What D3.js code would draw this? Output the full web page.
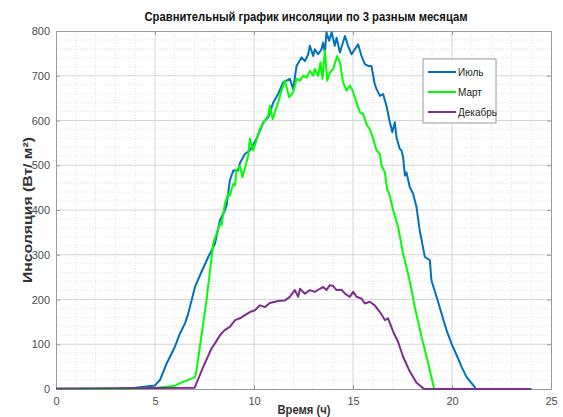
<!DOCTYPE html>
<html>
<head>
<meta charset="utf-8">
<script src="https://cdn.jsdelivr.net/npm/d3@7"></script>
<style>
  body { margin: 0; background: #fff; }
  text { font-family: "Liberation Sans Narrow", "Arial Narrow", "Liberation Sans", sans-serif; }
</style>
</head>
<body>
<div id="chart"></div>
<script>
// Series (hours, W/m²)
const julyT = [0, 3, 4, 5, 5.25, 5.59, 6.0, 6.26, 6.51, 6.68, 7.02, 7.35, 7.69, 8.03, 8.28, 8.53, 8.62, 8.78, 8.95, 9.2, 9.29, 9.54, 9.79, 10.13, 10.47, 10.72, 10.97, 11.22, 11.47, 11.81, 11.98, 12.15, 12.4, 12.57, 12.74, 12.82, 12.99, 13.07, 13.24, 13.41, 13.49, 13.58, 13.66, 13.8, 13.92, 14.08, 14.17, 14.34, 14.59, 14.75, 14.93, 15.09, 15.26, 15.43, 15.6, 15.76, 15.93, 16.1, 16.19, 16.36, 16.52, 16.69, 16.86, 16.99, 17.11, 17.2, 17.36, 17.45, 17.53, 17.62, 17.7, 17.87, 18.04, 18.21, 18.37, 18.63, 18.88, 18.96, 19.22, 19.47, 19.72, 19.97, 20.23, 20.48, 20.73, 21.15, 21.2, 24];
const julyV = [0, 0, 3, 8, 20, 57, 94, 124, 146, 169, 228, 262, 295, 325, 377, 399, 412, 466, 488, 488, 505, 525, 533, 559, 596, 607, 640, 659, 685, 693, 670, 722, 741, 733, 748, 767, 744, 759, 748, 759, 774, 752, 797, 778, 797, 767, 785, 752, 789, 767, 748, 759, 770, 744, 726, 722, 722, 681, 670, 655, 659, 633, 596, 574, 596, 562, 537, 533, 518, 477, 484, 451, 436, 406, 354, 295, 288, 243, 206, 169, 132, 102, 76, 50, 27, 4, 0, 0];

const marchT = [0, 3, 5, 6, 6.26, 6.93, 7.02, 7.1, 7.6, 7.94, 8.28, 8.36, 8.53, 8.7, 8.78, 8.95, 9.04, 9.12, 9.29, 9.42, 9.71, 9.79, 9.96, 10.3, 10.55, 10.72, 10.8, 10.94, 11.22, 11.39, 11.56, 11.78, 11.98, 12.15, 12.32, 12.49, 12.66, 12.82, 12.99, 13.07, 13.24, 13.36, 13.46, 13.58, 13.7, 13.83, 14.0, 14.2, 14.34, 14.5, 14.67, 14.84, 14.98, 15.18, 15.35, 15.51, 15.71, 15.85, 16.02, 16.19, 16.36, 16.44, 16.61, 16.72, 16.86, 17.03, 17.28, 17.53, 17.78, 17.96, 18.12, 18.46, 18.8, 19.08, 19.12, 24];
const marchV = [0, 0, 2, 7, 13, 25, 27, 42, 198, 325, 369, 366, 414, 436, 432, 458, 455, 488, 499, 473, 522, 559, 533, 581, 600, 611, 633, 603, 640, 667, 689, 652, 663, 693, 689, 700, 696, 711, 700, 715, 700, 730, 693, 756, 689, 707, 715, 744, 730, 685, 667, 678, 667, 640, 618, 615, 589, 581, 559, 533, 525, 499, 484, 447, 432, 399, 362, 302, 258, 221, 183, 117, 57, 4, 0, 0];

const decT = [0, 5, 7.0, 7.02, 7.44, 7.86, 8.03, 8.28, 8.53, 8.78, 9.04, 9.29, 9.54, 9.79, 10.05, 10.3, 10.55, 10.8, 11.06, 11.31, 11.56, 11.81, 12.06, 12.23, 12.32, 12.57, 12.82, 13.07, 13.33, 13.49, 13.66, 13.83, 14.0, 14.17, 14.42, 14.59, 14.84, 15.01, 15.18, 15.43, 15.6, 15.85, 16.1, 16.36, 16.61, 16.77, 17.03, 17.28, 17.53, 17.87, 18.21, 18.54, 18.6, 24];
const decV = [1, 2, 3, 5, 50, 91, 102, 120, 132, 139, 154, 158, 165, 172, 176, 187, 183, 192, 195, 197, 198, 206, 221, 206, 224, 213, 221, 217, 224, 228, 221, 232, 230, 221, 222, 213, 206, 217, 206, 202, 191, 195, 187, 172, 154, 158, 128, 105, 72, 39, 14, 2, 0, 0];

const seriesNames = ["Июль", "Март", "Декабрь"];
const seriesColors = ["#0072BD", "#00FF00", "#7E2F8E"];
const xTicks = [0, 5, 10, 15, 20, 25];
const yTicks = [0, 100, 200, 300, 400, 500, 600, 700, 800];

const W = 563, H = 417;
const margin = { top: 31, right: 12, bottom: 28, left: 56 };
const iw = W - margin.left - margin.right;
const ih = H - margin.top - margin.bottom;

const svg = d3.select("#chart").append("svg")
    .attr("width", W)
    .attr("height", H);

const g = svg.append("g")
    .attr("transform", `translate(${margin.left},${margin.top})`);

const x = d3.scaleLinear().domain([0, 25]).range([0, iw]);
const y = d3.scaleLinear().domain([0, 800]).range([ih, 0]);

// minor grid
g.append("g").selectAll("line")
    .data(d3.range(1, 25).filter(d => d % 5 !== 0))
    .enter().append("line")
    .attr("x1", d => x(d)).attr("x2", d => x(d))
    .attr("y1", 0).attr("y2", ih)
    .attr("stroke", "#d8d8d8").attr("stroke-width", 0.8)
    .attr("stroke-dasharray", "1,2");
g.append("g").selectAll("line")
    .data(d3.range(20, 800, 20).filter(d => d % 100 !== 0))
    .enter().append("line")
    .attr("y1", d => y(d)).attr("y2", d => y(d))
    .attr("x1", 0).attr("x2", iw)
    .attr("stroke", "#d8d8d8").attr("stroke-width", 0.8)
    .attr("stroke-dasharray", "1,2");

// major grid
g.append("g").selectAll("line")
    .data(xTicks.slice(1, -1))
    .enter().append("line")
    .attr("x1", d => x(d)).attr("x2", d => x(d))
    .attr("y1", 0).attr("y2", ih)
    .attr("stroke", "#d6d6d6").attr("stroke-width", 1);
g.append("g").selectAll("line")
    .data(yTicks.slice(1, -1))
    .enter().append("line")
    .attr("y1", d => y(d)).attr("y2", d => y(d))
    .attr("x1", 0).attr("x2", iw)
    .attr("stroke", "#d6d6d6").attr("stroke-width", 1);

// axes
g.append("g")
    .attr("transform", `translate(0,${ih})`)
    .call(d3.axisBottom(x).tickValues(xTicks).tickSizeInner(-4).tickSizeOuter(0).tickPadding(8));
g.append("g")
    .call(d3.axisLeft(y).tickValues(yTicks).tickSizeInner(-4).tickSizeOuter(0).tickPadding(6));
g.append("g")
    .call(d3.axisTop(x).tickValues(xTicks).tickSizeInner(-4).tickSizeOuter(0).tickFormat(""));
g.append("g")
    .attr("transform", `translate(${iw},0)`)
    .call(d3.axisRight(y).tickValues(yTicks).tickSizeInner(-4).tickSizeOuter(0).tickFormat(""));

g.selectAll(".domain").attr("stroke", "#9a9a9a");
g.selectAll(".tick line").attr("stroke", "#9a9a9a");
g.selectAll(".tick text").attr("fill", "#4d4d4d").style("font-size", "11px");

// lines
const line = d3.line()
    .x(d => x(d[0]))
    .y(d => y(d[1]));

const data = [
    d3.zip(julyT, julyV),
    d3.zip(marchT, marchV),
    d3.zip(decT, decV)
];

g.selectAll(".series")
    .data(data)
    .enter().append("path")
    .attr("class", "series")
    .attr("d", line)
    .attr("fill", "none")
    .attr("stroke", (d, i) => seriesColors[i])
    .attr("stroke-width", 2)
    .attr("stroke-linejoin", "round");

// legend
const legend = svg.append("g").attr("transform", "translate(423,59)");
legend.append("rect")
    .attr("width", 73).attr("height", 64)
    .attr("fill", "#fff")
    .attr("stroke", "#9a9a9a").attr("stroke-width", 1);
seriesNames.forEach((name, i) => {
    const row = legend.append("g").attr("transform", `translate(0,${13 + i * 20})`);
    row.append("line")
        .attr("x1", 5).attr("x2", 33)
        .attr("stroke", seriesColors[i]).attr("stroke-width", 2);
    row.append("text")
        .attr("x", 35).attr("dy", "0.35em")
        .style("font-size", "10px")
        .attr("fill", "#222")
        .text(name);
});

// titles
svg.append("text")
    .attr("x", 306).attr("y", 21)
    .attr("text-anchor", "middle")
    .attr("textLength", 323).attr("lengthAdjust", "spacingAndGlyphs")
    .style("font-size", "13px").style("font-weight", "bold")
    .attr("fill", "#111")
    .text("Сравнительный график инсоляции по 3 разным месяцам");

svg.append("text")
    .attr("x", 304).attr("y", 414)
    .attr("text-anchor", "middle")
    .attr("textLength", 53).attr("lengthAdjust", "spacingAndGlyphs")
    .style("font-size", "13px").style("font-weight", "bold")
    .attr("fill", "#333")
    .text("Время (ч)");

svg.append("text")
    .attr("transform", `translate(32,210) rotate(-90)`)
    .attr("text-anchor", "middle")
    .attr("textLength", 146).attr("lengthAdjust", "spacingAndGlyphs")
    .style("font-size", "13px").style("font-weight", "bold")
    .attr("fill", "#333")
    .text("Инсоляция (Вт/ м²)");
</script>
</body>
</html>
